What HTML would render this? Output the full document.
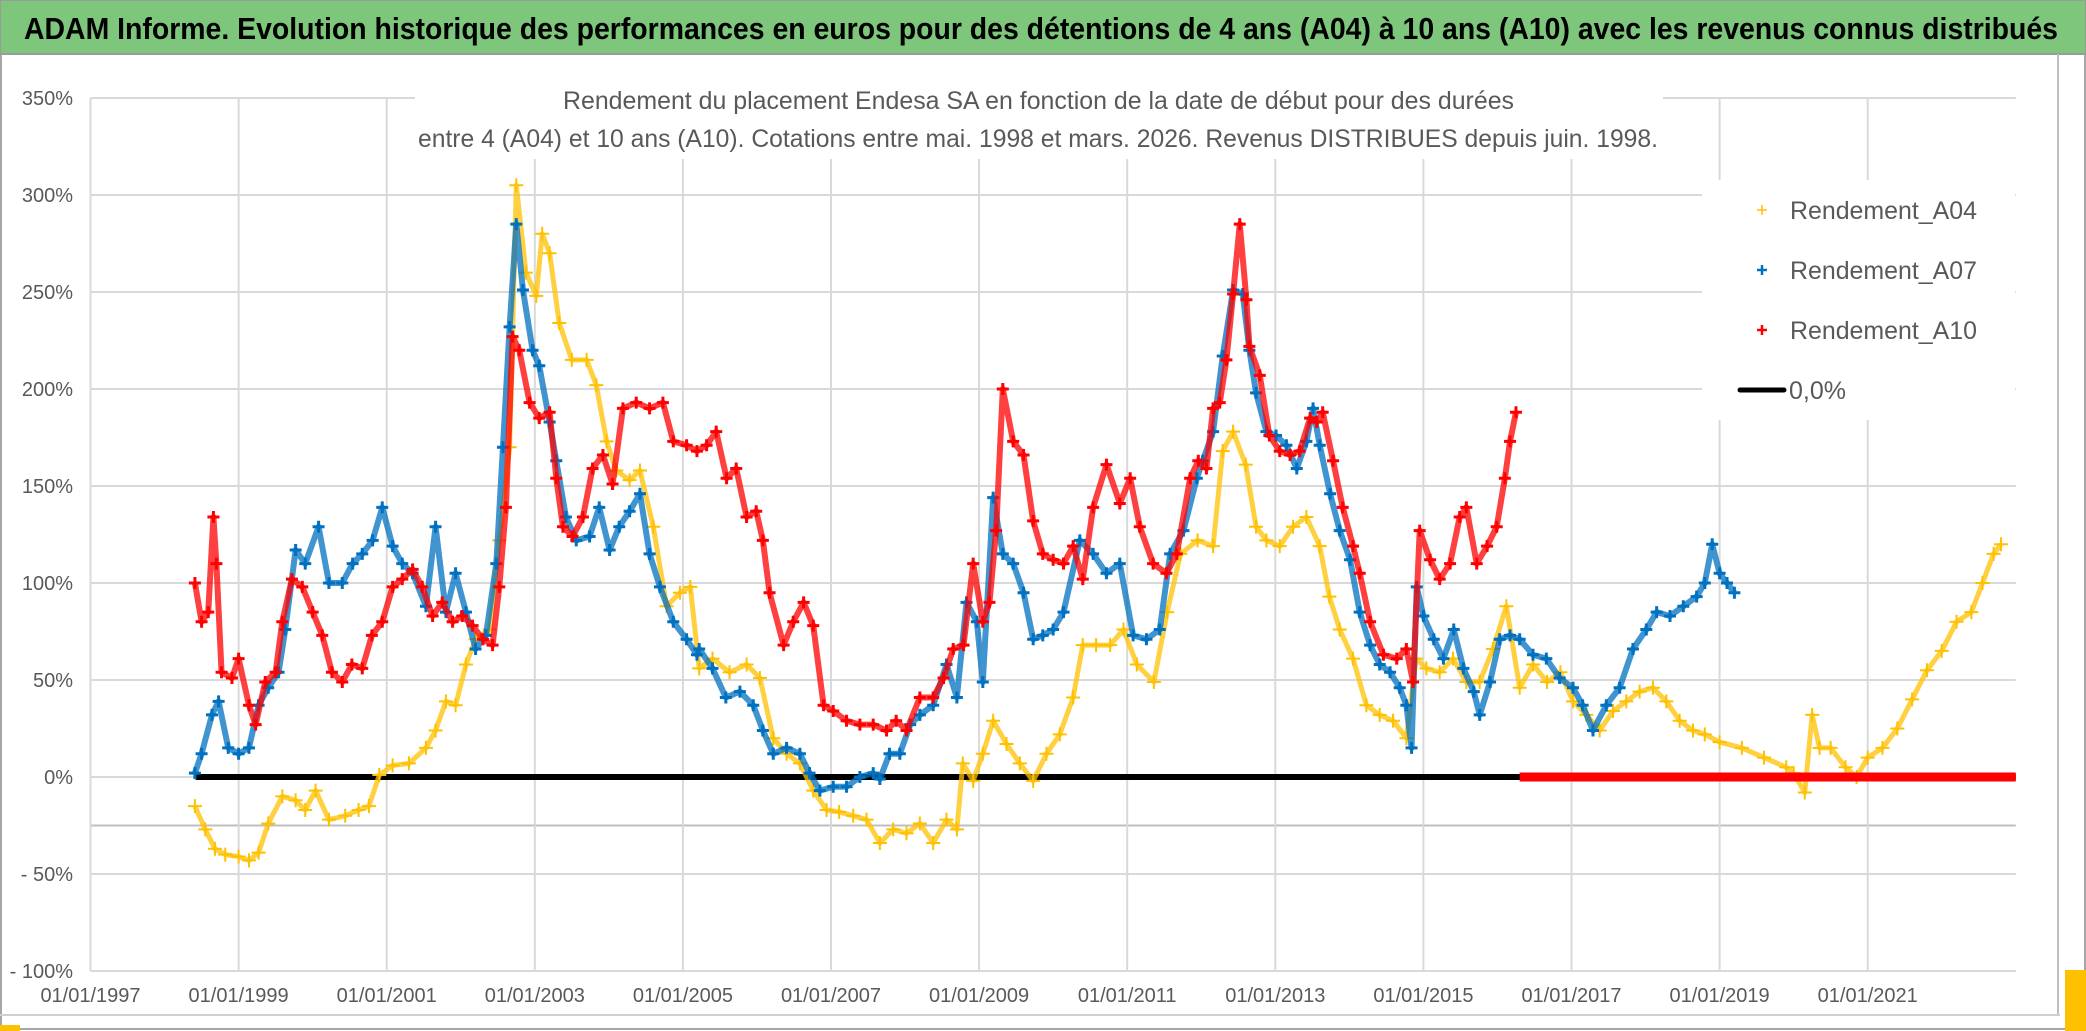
<!DOCTYPE html>
<html><head><meta charset="utf-8"><style>
html,body{margin:0;padding:0;background:#fff;}
svg{display:block;font-family:"Liberation Sans",sans-serif;}
</style></head><body>
<svg id="chart" width="2086" height="1031" viewBox="0 0 2086 1031" xmlns="http://www.w3.org/2000/svg">
<rect x="0" y="0" width="2086" height="1031" fill="#fff"/>
<rect x="1" y="1" width="2084" height="1028" fill="none" stroke="#a6a6a6" stroke-width="2"/>
<g>
<rect x="0" y="0" width="2086" height="54" fill="#7dc67b" stroke="#9a9a9a" stroke-width="2"/>
<text x="24" y="39" font-size="31" font-weight="bold" fill="#000" textLength="2034" lengthAdjust="spacingAndGlyphs">ADAM Informe. Evolution historique des performances en euros pour des détentions de 4 ans (A04) à 10 ans (A10) avec les revenus connus distribués</text>
</g>
<line x1="2058" y1="54" x2="2058" y2="1014" stroke="#bfbfbf" stroke-width="2"/>
<line x1="0" y1="1015" x2="2060" y2="1015" stroke="#d0d0d0" stroke-width="2"/>
<rect x="2065" y="970" width="21" height="61" fill="#ffc000"/>
<rect x="0" y="1025" width="20" height="6" fill="#ffc000"/>
<g id="grid"></g>
<g id="axes"></g>
<rect x="415" y="80" width="1248" height="79" fill="#fff"/>
<g fill="#595959" font-size="25">
<text x="563" y="109" textLength="951" lengthAdjust="spacingAndGlyphs">Rendement du placement Endesa SA en fonction de la date de début pour des durées</text>
<text x="418" y="147" textLength="1240" lengthAdjust="spacingAndGlyphs">entre 4 (A04) et 10 ans (A10). Cotations entre mai. 1998 et mars. 2026. Revenus DISTRIBUES depuis juin. 1998.</text>
</g>
<g id="marks"></g>
<g>
<rect x="1702" y="180" width="313" height="240" fill="#fff"/>
<g>
<path d="M1757 210h10M1762 205v10" stroke="#ffc000" stroke-width="1.5"/>
<text x="1790" y="219" font-size="25" fill="#595959" textLength="187" lengthAdjust="spacingAndGlyphs">Rendement_A04</text></g>
<g>
<path d="M1757 270h10M1762 265v10" stroke="#0070c0" stroke-width="2.5"/>
<text x="1790" y="279" font-size="25" fill="#595959" textLength="187" lengthAdjust="spacingAndGlyphs">Rendement_A07</text></g>
<g>
<path d="M1757 330h10M1762 325v10" stroke="#ff0000" stroke-width="2.5"/>
<text x="1790" y="339" font-size="25" fill="#595959" textLength="187" lengthAdjust="spacingAndGlyphs">Rendement_A10</text></g>
<g>
<line x1="1740" y1="390" x2="1784" y2="390" stroke="#000" stroke-width="5" stroke-linecap="round"/>
<text x="1789" y="399" font-size="25" fill="#595959">0,0%</text></g>
</g>
</svg>
<script>
const yTicks=[350,300,250,200,150,100,50,0,-50,-100];
const yTickLabels=["350%","300%","250%","200%","150%","100%","50%","0%","- 50%","- 100%"];
const xTicks=[1997,1999,2001,2003,2005,2007,2009,2011,2013,2015,2017,2019,2021];
const xTickLabels=["01/01/1997","01/01/1999","01/01/2001","01/01/2003","01/01/2005","01/01/2007","01/01/2009","01/01/2011","01/01/2013","01/01/2015","01/01/2017","01/01/2019","01/01/2021"];
const refLineValue=-25;
const zeroLineStart=1998.42, zeroLineEnd=2023;
const a10ZeroStart=2016.3, a10ZeroEnd=2023;
const a04Dates=[1998.41,1998.55,1998.68,1998.82,1999.0,1999.14,1999.27,1999.4,1999.59,1999.77,1999.9,2000.04,2000.22,2000.44,2000.62,2000.76,2000.9,2001.08,2001.3,2001.53,2001.66,2001.8,2001.93,2002.07,2002.2,2002.39,2002.52,2002.66,2002.75,2002.88,2003.02,2003.1,2003.2,2003.33,2003.5,2003.7,2003.83,2003.97,2004.1,2004.28,2004.42,2004.6,2004.78,2004.96,2005.1,2005.22,2005.4,2005.63,2005.86,2006.04,2006.22,2006.4,2006.58,2006.76,2006.94,2007.11,2007.3,2007.48,2007.66,2007.84,2008.02,2008.2,2008.38,2008.56,2008.7,2008.78,2008.92,2009.05,2009.19,2009.37,2009.55,2009.73,2009.91,2010.09,2010.27,2010.4,2010.58,2010.77,2010.95,2011.13,2011.36,2011.54,2011.72,2011.95,2012.16,2012.29,2012.43,2012.6,2012.74,2012.88,2013.06,2013.24,2013.42,2013.6,2013.73,2013.87,2014.05,2014.23,2014.41,2014.59,2014.77,2014.9,2015.04,2015.22,2015.4,2015.58,2015.76,2015.94,2016.12,2016.3,2016.48,2016.67,2016.85,2017.02,2017.2,2017.38,2017.56,2017.74,2017.92,2018.1,2018.28,2018.46,2018.64,2018.8,2019.0,2019.3,2019.6,2019.9,2020.0,2020.15,2020.25,2020.35,2020.5,2020.7,2020.85,2021.0,2021.2,2021.4,2021.6,2021.8,2022.0,2022.2,2022.4,2022.55,2022.7,2022.8];
const a04Values=[-15,-27,-37,-40,-41,-43,-39,-24,-10,-12,-17,-7,-22,-20,-17,-15,1,6,7,15,24,39,37,58,71,76,122,170,305,260,248,280,270,234,215,215,202,173,158,153,158,129,88,95,98,56,61,54,58,51,20,12,7,-7,-17,-18,-20,-22,-34,-27,-29,-24,-34,-22,-27,7,-2,12,29,17,7,-2,12,22,41,68,68,68,76,58,49,85,115,122,119,168,178,161,129,122,119,129,134,119,93,76,61,37,32,29,20,61,56,54,61,49,49,66,88,46,58,49,54,39,32,24,34,39,44,46,39,29,24,22,18,15,10,5,2,-8,32,15,15,5,0,10,15,25,40,55,65,80,85,100,115,120];
const a07Dates=[1998.41,1998.5,1998.64,1998.73,1998.86,1999.0,1999.14,1999.27,1999.4,1999.54,1999.63,1999.77,1999.9,2000.08,2000.22,2000.4,2000.54,2000.67,2000.81,2000.94,2001.08,2001.21,2001.35,2001.53,2001.66,2001.8,2001.93,2002.07,2002.2,2002.34,2002.48,2002.57,2002.66,2002.75,2002.84,2002.97,2003.06,2003.2,2003.29,2003.42,2003.56,2003.74,2003.87,2004.01,2004.14,2004.28,2004.42,2004.55,2004.69,2004.87,2005.05,2005.19,2005.22,2005.4,2005.58,2005.77,2005.95,2006.08,2006.22,2006.4,2006.58,2006.71,2006.85,2007.03,2007.21,2007.39,2007.57,2007.66,2007.79,2007.93,2008.07,2008.2,2008.38,2008.56,2008.7,2008.83,2008.97,2009.05,2009.19,2009.32,2009.46,2009.6,2009.73,2009.86,2010.0,2010.14,2010.36,2010.54,2010.72,2010.9,2011.08,2011.26,2011.44,2011.58,2011.76,2011.94,2012.02,2012.16,2012.29,2012.43,2012.56,2012.65,2012.74,2012.88,2013.01,2013.15,2013.29,2013.42,2013.51,2013.6,2013.74,2013.87,2014.01,2014.14,2014.28,2014.41,2014.55,2014.68,2014.77,2014.84,2014.91,2015.0,2015.14,2015.27,2015.41,2015.54,2015.68,2015.76,2015.9,2016.03,2016.17,2016.3,2016.48,2016.66,2016.84,2017.02,2017.15,2017.29,2017.47,2017.65,2017.83,2018.01,2018.15,2018.33,2018.51,2018.69,2018.8,2018.9,2019.0,2019.1,2019.2];
const a07Values=[2,12,32,39,15,12,15,37,46,54,76,117,110,129,100,100,110,115,122,139,119,110,105,88,129,85,105,85,66,73,110,170,232,285,251,220,212,183,163,134,122,124,139,117,129,137,146,115,98,80,71,63,66,56,41,44,37,24,12,15,12,2,-7,-5,-5,0,2,-1,12,12,27,32,37,58,41,90,80,49,144,115,110,95,71,73,76,85,122,115,105,110,73,71,76,115,127,154,163,178,217,251,249,220,198,178,176,171,159,173,190,171,146,127,112,85,68,58,54,46,37,15,98,83,71,61,76,56,44,32,49,71,73,71,63,61,51,46,37,24,37,46,66,76,85,83,88,93,100,120,105,100,95];
const a10Dates=[1998.41,1998.5,1998.59,1998.66,1998.7,1998.77,1998.91,1999.0,1999.14,1999.23,1999.36,1999.5,1999.59,1999.72,1999.86,2000.0,2000.13,2000.26,2000.4,2000.53,2000.67,2000.8,2000.94,2001.08,2001.21,2001.35,2001.48,2001.62,2001.75,2001.89,2002.02,2002.16,2002.3,2002.43,2002.52,2002.61,2002.7,2002.79,2002.93,2003.06,2003.2,2003.29,2003.38,2003.51,2003.65,2003.78,2003.92,2004.05,2004.19,2004.37,2004.55,2004.73,2004.87,2005.05,2005.19,2005.32,2005.45,2005.59,2005.72,2005.86,2005.99,2006.08,2006.17,2006.36,2006.49,2006.63,2006.76,2006.9,2007.03,2007.21,2007.39,2007.57,2007.75,2007.88,2008.02,2008.2,2008.38,2008.52,2008.65,2008.79,2008.92,2009.05,2009.14,2009.23,2009.32,2009.46,2009.6,2009.73,2009.86,2010.0,2010.14,2010.27,2010.4,2010.54,2010.72,2010.9,2011.04,2011.17,2011.35,2011.53,2011.67,2011.85,2011.96,2012.07,2012.16,2012.25,2012.34,2012.43,2012.52,2012.61,2012.65,2012.79,2012.92,2013.06,2013.2,2013.33,2013.47,2013.56,2013.64,2013.78,2013.91,2014.05,2014.14,2014.28,2014.46,2014.64,2014.77,2014.86,2014.95,2015.09,2015.22,2015.36,2015.49,2015.58,2015.72,2015.86,2015.99,2016.1,2016.17,2016.25];
const a10Values=[100,80,85,134,110,54,51,61,37,27,49,54,80,102,98,85,73,54,49,58,56,73,80,98,102,107,98,83,90,80,83,78,71,68,98,139,227,220,193,185,188,154,129,124,134,159,166,151,190,193,190,193,173,171,168,171,178,154,159,134,137,122,95,68,80,90,78,37,34,29,27,27,24,29,24,41,41,51,66,68,110,80,90,127,200,173,166,132,115,112,110,119,102,139,161,141,154,129,110,105,115,154,163,159,190,193,215,249,285,246,222,207,176,168,166,168,185,183,188,163,139,119,105,80,63,61,66,49,127,112,102,110,134,139,110,119,129,154,173,188,180];
const X0=90.5,PX_PER_YEAR=74.05,Y0=777,PX_PER_PCT=1.94;
function xs(d){return X0+(d-1997)*PX_PER_YEAR;}
function ys(v){return Y0-v*PX_PER_PCT;}
const NS="http://www.w3.org/2000/svg";
function mk(tag,attrs,parent){const e=document.createElementNS(NS,tag);for(const k in attrs)e.setAttribute(k,attrs[k]);parent.appendChild(e);return e;}
const grid=document.getElementById('grid'),axes=document.getElementById('axes'),marks=document.getElementById('marks');
const xL=xs(1997),xR=xs(2023);
yTicks.forEach((v,i)=>{
  const l=mk('line',{x1:xL,x2:xR,y1:ys(v),y2:ys(v),stroke:'#d9d9d9','stroke-width':2},grid);
  
  
  const t=mk('text',{x:73,y:ys(v)+7,'text-anchor':'end','font-size':20,fill:'#595959'},axes);
  t.textContent=yTickLabels[i];
  
  
});
const rl=mk('line',{x1:xL,x2:xR,y1:ys(refLineValue),y2:ys(refLineValue),stroke:'#bfbfbf','stroke-width':2},grid);


xTicks.forEach((d,i)=>{
  const l=mk('line',{x1:xs(d),x2:xs(d),y1:ys(350),y2:ys(-100),stroke:'#d9d9d9','stroke-width':2},grid);
  
  
  const t=mk('text',{x:xs(d),y:1002,'text-anchor':'middle','font-size':20,fill:'#595959'},axes);
  t.textContent=xTickLabels[i];
  
  
});
const zl=mk('line',{x1:xs(zeroLineStart),x2:xs(zeroLineEnd),y1:ys(0),y2:ys(0),stroke:'#000','stroke-width':6},marks);


function series(dates,vals,color,size,sw,trail,name){
  const g=mk('g',{stroke:color},marks);
  
  
  let tr='';
  let d='';
  for(let i=0;i<vals.length;i++){
    const x=xs(dates[i]),y=ys(vals[i]);
    tr+=(i?'L':'M')+x+' '+y;
    d+=`M${x-size} ${y}h${2*size}M${x} ${y-size}v${2*size}`;
  }
  const t=mk('path',{d:tr,fill:'none','stroke-width':trail,'stroke-opacity':0.75,'stroke-linejoin':'round'},g);
  
  
  const p=mk('path',{d:d,fill:'none','stroke-width':sw},g);
  
  
}
series(a04Dates,a04Values,'#ffc000',7,2,5,'series-a04');
series(a07Dates,a07Values,'#0070c0',6,3,6,'series-a07');
series(a10Dates,a10Values,'#ff0000',6,3,6,'series-a10');
const zb=mk('line',{x1:xs(a10ZeroStart),x2:xs(a10ZeroEnd),y1:ys(0),y2:ys(0),stroke:'#ff0000','stroke-width':9},marks);


</script>
</body></html>
